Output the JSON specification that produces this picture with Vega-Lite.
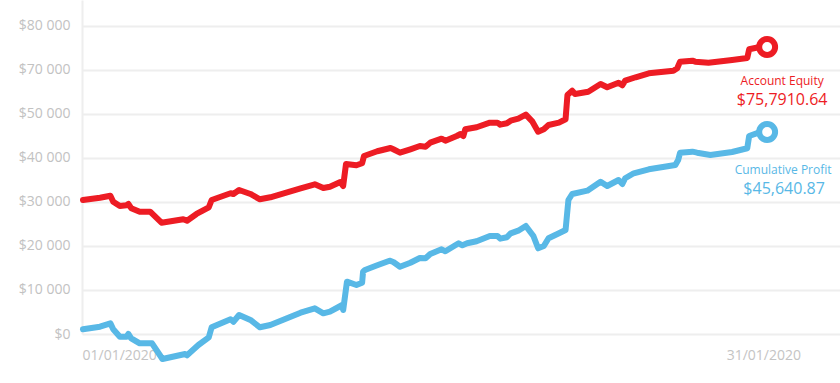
{
  "$schema": "https://vega.github.io/schema/vega-lite/v6.json",
  "width": 758,
  "height": 334,
  "autosize": {"type": "none"},
  "padding": {"left": 82, "top": 0, "right": 0, "bottom": 49},
  "background": "white",
  "config": {"view": {"stroke": null}, "font": "Open Sans"},
  "datasets": {
    "lines": [
      {"series": "Account Equity", "t": "2020-01-01T01:00Z", "value": 30455},
      {"series": "Account Equity", "t": "2020-01-01T19:00Z", "value": 30977},
      {"series": "Account Equity", "t": "2020-01-02T06:00Z", "value": 31432},
      {"series": "Account Equity", "t": "2020-01-02T09:00Z", "value": 30068},
      {"series": "Account Equity", "t": "2020-01-02T16:00Z", "value": 29091},
      {"series": "Account Equity", "t": "2020-01-02T23:00Z", "value": 29250},
      {"series": "Account Equity", "t": "2020-01-03T01:00Z", "value": 29550},
      {"series": "Account Equity", "t": "2020-01-03T04:00Z", "value": 28600},
      {"series": "Account Equity", "t": "2020-01-03T13:00Z", "value": 27795},
      {"series": "Account Equity", "t": "2020-01-04T00:00Z", "value": 27795},
      {"series": "Account Equity", "t": "2020-01-04T12:00Z", "value": 25295},
      {"series": "Account Equity", "t": "2020-01-05T11:00Z", "value": 26068},
      {"series": "Account Equity", "t": "2020-01-05T15:00Z", "value": 25750},
      {"series": "Account Equity", "t": "2020-01-06T01:00Z", "value": 27273},
      {"series": "Account Equity", "t": "2020-01-06T14:00Z", "value": 28795},
      {"series": "Account Equity", "t": "2020-01-06T17:00Z", "value": 30455},
      {"series": "Account Equity", "t": "2020-01-07T13:00Z", "value": 31977},
      {"series": "Account Equity", "t": "2020-01-07T16:00Z", "value": 31818},
      {"series": "Account Equity", "t": "2020-01-07T22:00Z", "value": 32727},
      {"series": "Account Equity", "t": "2020-01-08T10:00Z", "value": 31818},
      {"series": "Account Equity", "t": "2020-01-08T20:00Z", "value": 30614},
      {"series": "Account Equity", "t": "2020-01-09T07:00Z", "value": 31068},
      {"series": "Account Equity", "t": "2020-01-10T15:00Z", "value": 33114},
      {"series": "Account Equity", "t": "2020-01-11T06:00Z", "value": 34023},
      {"series": "Account Equity", "t": "2020-01-11T15:00Z", "value": 33182},
      {"series": "Account Equity", "t": "2020-01-11T22:00Z", "value": 33477},
      {"series": "Account Equity", "t": "2020-01-12T09:00Z", "value": 34545},
      {"series": "Account Equity", "t": "2020-01-12T12:00Z", "value": 33636},
      {"series": "Account Equity", "t": "2020-01-12T15:00Z", "value": 38636},
      {"series": "Account Equity", "t": "2020-01-13T02:00Z", "value": 38341},
      {"series": "Account Equity", "t": "2020-01-13T08:00Z", "value": 38795},
      {"series": "Account Equity", "t": "2020-01-13T10:00Z", "value": 40455},
      {"series": "Account Equity", "t": "2020-01-14T00:00Z", "value": 41523},
      {"series": "Account Equity", "t": "2020-01-14T14:00Z", "value": 42273},
      {"series": "Account Equity", "t": "2020-01-14T17:00Z", "value": 41977},
      {"series": "Account Equity", "t": "2020-01-15T00:00Z", "value": 41205},
      {"series": "Account Equity", "t": "2020-01-15T11:00Z", "value": 41977},
      {"series": "Account Equity", "t": "2020-01-15T21:00Z", "value": 42727},
      {"series": "Account Equity", "t": "2020-01-16T03:00Z", "value": 42568},
      {"series": "Account Equity", "t": "2020-01-16T08:00Z", "value": 43477},
      {"series": "Account Equity", "t": "2020-01-16T20:00Z", "value": 44386},
      {"series": "Account Equity", "t": "2020-01-17T00:00Z", "value": 43932},
      {"series": "Account Equity", "t": "2020-01-17T12:00Z", "value": 45000},
      {"series": "Account Equity", "t": "2020-01-17T16:00Z", "value": 45455},
      {"series": "Account Equity", "t": "2020-01-17T19:00Z", "value": 45000},
      {"series": "Account Equity", "t": "2020-01-17T21:00Z", "value": 46523},
      {"series": "Account Equity", "t": "2020-01-18T09:00Z", "value": 46977},
      {"series": "Account Equity", "t": "2020-01-18T23:00Z", "value": 48023},
      {"series": "Account Equity", "t": "2020-01-19T07:00Z", "value": 48023},
      {"series": "Account Equity", "t": "2020-01-19T10:00Z", "value": 47568},
      {"series": "Account Equity", "t": "2020-01-19T17:00Z", "value": 47886},
      {"series": "Account Equity", "t": "2020-01-19T21:00Z", "value": 48477},
      {"series": "Account Equity", "t": "2020-01-20T05:00Z", "value": 48932},
      {"series": "Account Equity", "t": "2020-01-20T13:00Z", "value": 49841},
      {"series": "Account Equity", "t": "2020-01-20T20:00Z", "value": 48250},
      {"series": "Account Equity", "t": "2020-01-21T02:00Z", "value": 45977},
      {"series": "Account Equity", "t": "2020-01-21T08:00Z", "value": 46523},
      {"series": "Account Equity", "t": "2020-01-21T13:00Z", "value": 47500},
      {"series": "Account Equity", "t": "2020-01-22T00:00Z", "value": 48023},
      {"series": "Account Equity", "t": "2020-01-22T07:00Z", "value": 48795},
      {"series": "Account Equity", "t": "2020-01-22T09:00Z", "value": 54318},
      {"series": "Account Equity", "t": "2020-01-22T14:00Z", "value": 55295},
      {"series": "Account Equity", "t": "2020-01-22T17:00Z", "value": 54545},
      {"series": "Account Equity", "t": "2020-01-23T07:00Z", "value": 55068},
      {"series": "Account Equity", "t": "2020-01-23T20:00Z", "value": 56818},
      {"series": "Account Equity", "t": "2020-01-24T03:00Z", "value": 56068},
      {"series": "Account Equity", "t": "2020-01-24T15:00Z", "value": 57114},
      {"series": "Account Equity", "t": "2020-01-24T19:00Z", "value": 56523},
      {"series": "Account Equity", "t": "2020-01-24T22:00Z", "value": 57568},
      {"series": "Account Equity", "t": "2020-01-25T09:00Z", "value": 58341},
      {"series": "Account Equity", "t": "2020-01-25T23:00Z", "value": 59250},
      {"series": "Account Equity", "t": "2020-01-27T01:00Z", "value": 59841},
      {"series": "Account Equity", "t": "2020-01-27T05:00Z", "value": 60386},
      {"series": "Account Equity", "t": "2020-01-27T08:00Z", "value": 61886},
      {"series": "Account Equity", "t": "2020-01-27T21:00Z", "value": 62114},
      {"series": "Account Equity", "t": "2020-01-28T00:00Z", "value": 61886},
      {"series": "Account Equity", "t": "2020-01-28T14:00Z", "value": 61659},
      {"series": "Account Equity", "t": "2020-01-29T15:00Z", "value": 62273},
      {"series": "Account Equity", "t": "2020-01-30T07:00Z", "value": 62727},
      {"series": "Account Equity", "t": "2020-01-30T09:00Z", "value": 64705},
      {"series": "Account Equity", "t": "2020-01-30T19:00Z", "value": 65159},
      {"series": "Account Equity", "t": "2020-01-31T04:00Z", "value": 65227},
      {"series": "Cumulative Profit", "t": "2020-01-01T01:00Z", "value": 1068},
      {"series": "Cumulative Profit", "t": "2020-01-01T19:00Z", "value": 1659},
      {"series": "Cumulative Profit", "t": "2020-01-02T06:00Z", "value": 2432},
      {"series": "Cumulative Profit", "t": "2020-01-02T09:00Z", "value": 1068},
      {"series": "Cumulative Profit", "t": "2020-01-02T16:00Z", "value": -614},
      {"series": "Cumulative Profit", "t": "2020-01-02T23:00Z", "value": -614},
      {"series": "Cumulative Profit", "t": "2020-01-03T01:00Z", "value": 0},
      {"series": "Cumulative Profit", "t": "2020-01-03T04:00Z", "value": -977},
      {"series": "Cumulative Profit", "t": "2020-01-03T13:00Z", "value": -2114},
      {"series": "Cumulative Profit", "t": "2020-01-04T02:00Z", "value": -2114},
      {"series": "Cumulative Profit", "t": "2020-01-04T13:00Z", "value": -5682},
      {"series": "Cumulative Profit", "t": "2020-01-05T13:00Z", "value": -4545},
      {"series": "Cumulative Profit", "t": "2020-01-05T15:00Z", "value": -4841},
      {"series": "Cumulative Profit", "t": "2020-01-06T03:00Z", "value": -2500},
      {"series": "Cumulative Profit", "t": "2020-01-06T14:00Z", "value": -750},
      {"series": "Cumulative Profit", "t": "2020-01-06T17:00Z", "value": 1523},
      {"series": "Cumulative Profit", "t": "2020-01-07T13:00Z", "value": 3341},
      {"series": "Cumulative Profit", "t": "2020-01-07T16:00Z", "value": 2795},
      {"series": "Cumulative Profit", "t": "2020-01-07T22:00Z", "value": 4318},
      {"series": "Cumulative Profit", "t": "2020-01-08T10:00Z", "value": 3182},
      {"series": "Cumulative Profit", "t": "2020-01-08T20:00Z", "value": 1523},
      {"series": "Cumulative Profit", "t": "2020-01-09T07:00Z", "value": 2045},
      {"series": "Cumulative Profit", "t": "2020-01-10T15:00Z", "value": 4841},
      {"series": "Cumulative Profit", "t": "2020-01-11T06:00Z", "value": 5841},
      {"series": "Cumulative Profit", "t": "2020-01-11T15:00Z", "value": 4705},
      {"series": "Cumulative Profit", "t": "2020-01-11T22:00Z", "value": 5068},
      {"series": "Cumulative Profit", "t": "2020-01-12T11:00Z", "value": 6591},
      {"series": "Cumulative Profit", "t": "2020-01-12T12:00Z", "value": 5455},
      {"series": "Cumulative Profit", "t": "2020-01-12T16:00Z", "value": 11886},
      {"series": "Cumulative Profit", "t": "2020-01-13T02:00Z", "value": 11136},
      {"series": "Cumulative Profit", "t": "2020-01-13T08:00Z", "value": 11659},
      {"series": "Cumulative Profit", "t": "2020-01-13T09:00Z", "value": 14159},
      {"series": "Cumulative Profit", "t": "2020-01-13T11:00Z", "value": 14545},
      {"series": "Cumulative Profit", "t": "2020-01-14T00:00Z", "value": 15614},
      {"series": "Cumulative Profit", "t": "2020-01-14T13:00Z", "value": 16659},
      {"series": "Cumulative Profit", "t": "2020-01-14T17:00Z", "value": 16364},
      {"series": "Cumulative Profit", "t": "2020-01-15T00:00Z", "value": 15295},
      {"series": "Cumulative Profit", "t": "2020-01-15T11:00Z", "value": 16205},
      {"series": "Cumulative Profit", "t": "2020-01-15T21:00Z", "value": 17273},
      {"series": "Cumulative Profit", "t": "2020-01-16T03:00Z", "value": 17205},
      {"series": "Cumulative Profit", "t": "2020-01-16T08:00Z", "value": 18182},
      {"series": "Cumulative Profit", "t": "2020-01-16T20:00Z", "value": 19250},
      {"series": "Cumulative Profit", "t": "2020-01-17T00:00Z", "value": 18795},
      {"series": "Cumulative Profit", "t": "2020-01-17T14:00Z", "value": 20614},
      {"series": "Cumulative Profit", "t": "2020-01-17T18:00Z", "value": 20159},
      {"series": "Cumulative Profit", "t": "2020-01-17T23:00Z", "value": 20614},
      {"series": "Cumulative Profit", "t": "2020-01-18T09:00Z", "value": 21068},
      {"series": "Cumulative Profit", "t": "2020-01-18T23:00Z", "value": 22273},
      {"series": "Cumulative Profit", "t": "2020-01-19T07:00Z", "value": 22273},
      {"series": "Cumulative Profit", "t": "2020-01-19T10:00Z", "value": 21659},
      {"series": "Cumulative Profit", "t": "2020-01-19T17:00Z", "value": 21977},
      {"series": "Cumulative Profit", "t": "2020-01-19T21:00Z", "value": 22886},
      {"series": "Cumulative Profit", "t": "2020-01-20T05:00Z", "value": 23477},
      {"series": "Cumulative Profit", "t": "2020-01-20T13:00Z", "value": 24545},
      {"series": "Cumulative Profit", "t": "2020-01-20T21:00Z", "value": 22273},
      {"series": "Cumulative Profit", "t": "2020-01-21T02:00Z", "value": 19477},
      {"series": "Cumulative Profit", "t": "2020-01-21T08:00Z", "value": 20000},
      {"series": "Cumulative Profit", "t": "2020-01-21T13:00Z", "value": 21750},
      {"series": "Cumulative Profit", "t": "2020-01-22T00:00Z", "value": 22886},
      {"series": "Cumulative Profit", "t": "2020-01-22T07:00Z", "value": 23636},
      {"series": "Cumulative Profit", "t": "2020-01-22T10:00Z", "value": 30455},
      {"series": "Cumulative Profit", "t": "2020-01-22T14:00Z", "value": 31818},
      {"series": "Cumulative Profit", "t": "2020-01-23T06:00Z", "value": 32568},
      {"series": "Cumulative Profit", "t": "2020-01-23T20:00Z", "value": 34614},
      {"series": "Cumulative Profit", "t": "2020-01-24T03:00Z", "value": 33636},
      {"series": "Cumulative Profit", "t": "2020-01-24T15:00Z", "value": 35000},
      {"series": "Cumulative Profit", "t": "2020-01-24T19:00Z", "value": 34091},
      {"series": "Cumulative Profit", "t": "2020-01-24T22:00Z", "value": 35386},
      {"series": "Cumulative Profit", "t": "2020-01-25T07:00Z", "value": 36523},
      {"series": "Cumulative Profit", "t": "2020-01-25T23:00Z", "value": 37432},
      {"series": "Cumulative Profit", "t": "2020-01-27T03:00Z", "value": 38409},
      {"series": "Cumulative Profit", "t": "2020-01-27T06:00Z", "value": 39545},
      {"series": "Cumulative Profit", "t": "2020-01-27T08:00Z", "value": 41205},
      {"series": "Cumulative Profit", "t": "2020-01-27T21:00Z", "value": 41432},
      {"series": "Cumulative Profit", "t": "2020-01-28T02:00Z", "value": 41205},
      {"series": "Cumulative Profit", "t": "2020-01-28T16:00Z", "value": 40682},
      {"series": "Cumulative Profit", "t": "2020-01-29T15:00Z", "value": 41364},
      {"series": "Cumulative Profit", "t": "2020-01-30T07:00Z", "value": 42205},
      {"series": "Cumulative Profit", "t": "2020-01-30T09:00Z", "value": 45000},
      {"series": "Cumulative Profit", "t": "2020-01-30T19:00Z", "value": 45750},
      {"series": "Cumulative Profit", "t": "2020-01-31T04:00Z", "value": 45909}
    ],
    "ends": [
      {"series": "Account Equity", "t": "2020-01-31T04:00Z", "value": 65227, "label": "Account Equity", "amount": "$75,7910.64"},
      {"series": "Cumulative Profit", "t": "2020-01-31T04:00Z", "value": 45909, "label": "Cumulative Profit", "amount": "$45,640.87"}
    ]
  },
  "encoding": {
    "x": {
      "field": "t",
      "type": "temporal",
      "scale": {
        "type": "utc",
        "domain": [
          {"year": 2020, "month": 1, "date": 1, "utc": true},
          {"year": 2020, "month": 2, "date": 3, "hours": 9, "utc": true}
        ]
      },
      "axis": {
        "title": null,
        "values": [
          {"year": 2020, "month": 1, "date": 1, "utc": true},
          {"year": 2020, "month": 1, "date": 31, "utc": true}
        ],
        "format": "%d/%m/%Y",
        "labelFlush": true,
        "grid": false,
        "domain": false,
        "ticks": false,
        "labelColor": "#c4c4c4",
        "labelFont": "Open Sans",
        "labelFontSize": 14,
        "labelPadding": 14
      }
    },
    "y": {
      "field": "value",
      "type": "quantitative",
      "scale": {"domain": [0, 75900], "nice": false, "zero": false},
      "axis": {
        "title": null,
        "values": [0, 10000, 20000, 30000, 40000, 50000, 60000, 70000],
        "labelExpr": "datum.value == 60000 ? '$70 000' : datum.value == 70000 ? '$80 000' : '$' + replace(format(datum.value, ','), ',', ' ')",
        "grid": true,
        "gridColor": "#eeeeee",
        "gridWidth": 2,
        "domain": true,
        "domainColor": "#eeeeee",
        "domainWidth": 2,
        "ticks": false,
        "labelColor": "#c2c2c2",
        "labelFont": "Open Sans",
        "labelFontSize": 14,
        "labelPadding": 12
      }
    },
    "color": {
      "field": "series",
      "type": "nominal",
      "scale": {"domain": ["Account Equity", "Cumulative Profit"], "range": ["#ed1c24", "#58b8e6"]},
      "legend": null
    }
  },
  "layer": [
    {
      "data": {"name": "lines"},
      "mark": {"type": "line", "strokeWidth": 6, "strokeCap": "round", "strokeJoin": "round"}
    },
    {
      "data": {"name": "ends"},
      "mark": {"type": "point", "shape": "circle", "filled": false, "fill": "white", "fillOpacity": 1, "opacity": 1, "strokeWidth": 6, "size": 254}
    },
    {
      "data": {"name": "ends"},
      "transform": [{"filter": "datum.series == 'Account Equity'"}],
      "mark": {"type": "text", "dx": 15, "dy": 34, "fontSize": 12, "font": "Open Sans"},
      "encoding": {"text": {"field": "label"}}
    },
    {
      "data": {"name": "ends"},
      "transform": [{"filter": "datum.series == 'Account Equity'"}],
      "mark": {"type": "text", "dx": 15, "dy": 53, "fontSize": 16, "font": "Open Sans"},
      "encoding": {"text": {"field": "amount"}}
    },
    {
      "data": {"name": "ends"},
      "transform": [{"filter": "datum.series == 'Cumulative Profit'"}],
      "mark": {"type": "text", "dx": 16, "dy": 38, "fontSize": 12, "font": "Open Sans"},
      "encoding": {"text": {"field": "label"}}
    },
    {
      "data": {"name": "ends"},
      "transform": [{"filter": "datum.series == 'Cumulative Profit'"}],
      "mark": {"type": "text", "dx": 17, "dy": 57, "fontSize": 16, "font": "Open Sans"},
      "encoding": {"text": {"field": "amount"}}
    }
  ]
}
